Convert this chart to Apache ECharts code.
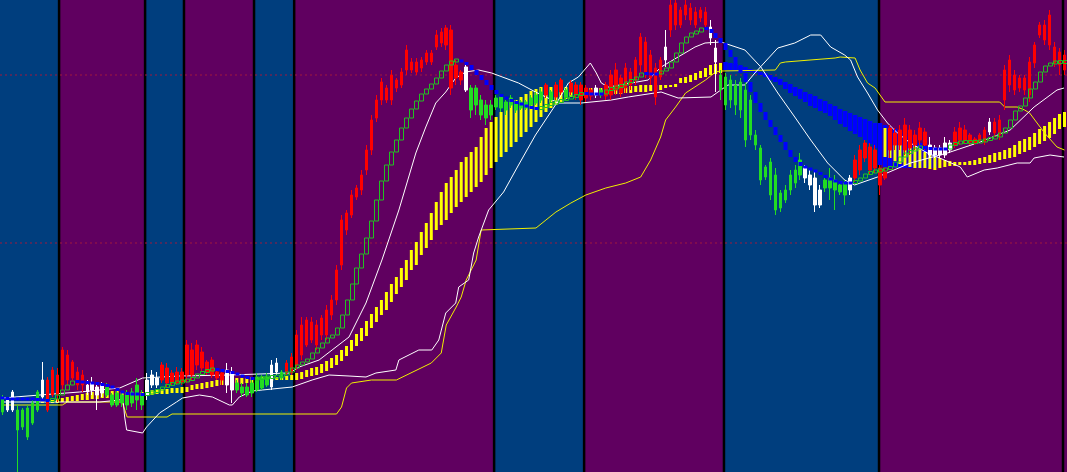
<!DOCTYPE html>
<html>
<head>
<meta charset="utf-8">
<script src="https://cdn.jsdelivr.net/npm/echarts@6/dist/echarts.min.js"></script>
<style>
html,body{margin:0;padding:0;background:#000;overflow:hidden;}
#chart{width:1067px;height:472px;}
</style>
</head>
<body>
<div id="chart"></div>
<script>
// ---------- DATA ----------
// Candles (price units), one per bar (214 bars)
const candleOpen = [
102,90,90,90,90,92,97,108,103,90,
105,105,115,120,122,115,115,108,110,105,
107,113,105,107,105,105,108,115,105,105,
115,115,120,117,117,117,118,125,125,135,
132,128,125,122,120,115,110,117,113,113,
117,122,122,123,113,128,128,127,127,135,
145,155,160,155,165,165,185,200,235,270,
285,303,310,330,350,382,400,400,400,412,
415,430,430,428,432,438,438,453,457,455,
412,422,420,410,412,412,400,395,395,402,
403,398,402,397,398,398,402,405,408,405,
408,403,408,410,408,405,400,402,404,405,
410,404,405,410,407,412,415,420,435,428,
422,403,423,440,470,475,475,485,480,475,
482,475,462,438,425,423,420,415,418,410,
400,365,352,333,338,325,307,310,325,330,
340,322,315,295,295,320,322,320,315,317,
310,322,330,342,330,332,315,322,350,355,
355,350,352,355,360,355,345,345,345,345,
350,355,360,360,358,357,360,358,368,367,
365,400,415,410,412,410,405,437,465,460,
455,437,435,430];
const candleClose = [
88,100,108,70,73,63,77,90,120,120,
130,125,150,145,138,128,125,115,117,113,
115,105,95,95,97,95,97,100,95,120,
125,122,135,132,127,128,128,155,150,155,
148,138,140,128,127,130,128,110,107,105,
107,110,112,115,135,137,122,137,143,165,
175,180,178,175,182,190,200,230,280,287,
305,312,325,350,380,400,418,412,425,420,
428,450,438,438,440,447,447,465,468,472,
470,435,428,433,390,395,385,382,385,393,
392,390,395,390,392,392,395,397,400,415,
400,415,420,403,417,415,415,412,410,412,
405,415,425,430,422,432,428,440,463,458,
445,432,440,453,495,497,490,495,492,488,
490,488,473,452,410,395,400,395,390,360,
365,355,320,323,305,290,292,300,310,317,
325,332,325,322,310,312,312,310,308,305,
322,340,350,357,353,350,332,328,372,367,
370,375,370,365,372,368,355,352,352,357,
357,368,372,370,365,361,365,370,378,378,
380,430,440,425,422,422,438,455,475,475,
485,453,448,445];
const candleLow = [
85,88,88,28,70,60,75,88,100,88,
103,98,110,115,120,110,108,105,105,90,
103,103,93,93,93,90,93,90,90,100,
112,112,117,113,115,115,115,117,120,130,
128,125,122,120,115,107,97,107,103,103,
103,108,110,113,110,125,120,125,125,130,
140,153,157,150,160,160,180,195,230,265,
282,300,305,325,345,378,395,397,395,408,
412,425,427,425,428,435,435,450,453,450,
405,415,415,408,382,385,380,375,380,390,
388,385,392,387,390,390,392,395,397,402,
397,400,405,400,405,400,395,398,400,402,
402,400,400,405,403,407,410,415,428,422,
415,395,420,433,463,470,472,480,475,472,
478,472,455,408,400,390,392,385,382,353,
360,350,315,320,300,285,288,297,305,312,
320,317,310,288,292,308,300,290,305,295,
305,318,325,338,325,327,305,320,342,350,
350,345,345,350,355,350,342,342,342,342,
347,352,355,357,355,355,358,355,365,363,
360,390,408,405,408,405,398,432,462,455,
450,433,425,425];
const candleHigh = [
105,102,110,95,92,95,100,110,138,123,
133,132,153,150,140,133,130,120,123,117,
118,117,107,110,107,110,112,122,110,127,
130,128,138,137,130,133,132,160,157,160,
153,140,143,130,130,137,133,120,117,117,
120,127,125,127,140,142,130,140,147,170,
183,183,183,180,185,195,205,235,285,290,
310,315,330,355,385,405,422,415,430,422,
432,455,442,442,443,450,450,470,472,475,
475,440,430,435,415,415,405,400,400,405,
405,400,405,400,400,400,405,408,412,417,
410,418,422,412,420,418,418,415,412,415,
412,418,430,437,425,437,432,443,467,463,
450,437,443,470,500,500,493,500,497,493,
493,493,480,460,430,427,425,420,422,417,
405,370,355,335,342,332,310,315,330,335,
347,335,330,328,315,322,332,325,317,320,
325,345,355,360,357,355,335,332,375,372,
375,382,375,370,378,372,363,355,355,363,
360,373,378,375,367,363,367,373,382,382,
385,435,445,430,425,425,443,458,478,480,
490,458,452,450];
// candle colour state: r = red, g = green, w = white
const candleState = [
'gwwgggggwrrr','rrrrr','wwww','gggggggg','www',
'rrrrrrrrrrrrr','ww','ggggggg','ww','g',
'rrrrrrrrrr','rrrrrrrrrr','rrrrrrrrrr','rrrrrr',
'w','ggggggggggggggg','rgrrg','rrrrr','wg',
'rrrrrrrrrrrr','w','rrrrrrrr','ww',
'ggggggggggggggggg','wwww','ggggg','w',
'rrrrrrrrrrrrrrr','wwwww','rrrrrrr','w','rrrrrrrrrrrrrrr'
].join('');

// Signal (trailing) line, one value per bar
const signalLine = [
102,101,101,101,101,101,101,100,100,99,
101,105,110,115,119,118,118,117,117,116,
115,114,112,109,107,106,106,106,105,107,
108,110,113,115,117,118,119,120,122,126,
128,130,131,130,129,128,127,125,123,122,
121,122,122,123,123,124,125,128,132,135,
138,141,147,152,157,162,165,172,185,200,
216,232,246,262,279,300,319,335,348,360,
372,382,391,399,406,411,416,422,429,435,
439,440,438,435,430,425,420,415,410,406,
403,401,398,397,395,393,392,391,393,395,
397,398,400,402,403,405,407,406,406,406,
406,410,412,413,415,418,420,423,427,426,
426,426,429,432,438,447,457,463,467,468,
472,471,467,462,457,450,443,435,427,418,
408,397,388,380,373,365,358,350,343,338,
334,332,330,328,325,322,320,318,317,317,
317,319,322,326,328,329,330,331,333,338,
343,347,349,352,353,352,351,351,351,351,
355,357,358,358,358,358,359,360,362,363,
367,372,380,389,394,402,411,418,428,434,
437,438,438,438];

// Yellow cloud histogram, segment A (bars 7..144) and B (bars 177..213)
const cloudStartA = 7;
const cloudTopA = [
100,100,100,100,
101,102,103,104,105,106,107,108,108,109,
109,109,109,108,108,108,108,108,109,110,
110,111,111,112,112,113,113,115,116,117,
118,119,120,122,122,122,122,122,122,123,
123,123,123,123,123,123,124,125,127,128,
130,132,133,136,139,142,145,150,154,160,
166,172,179,186,193,200,208,216,223,232,
240,250,258,268,277,287,298,308,317,323,
330,338,343,348,353,363,372,378,383,388,
393,397,400,403,406,409,411,413,414,413,
413,413,413,413,412,412,412,412,412,412,
412,413,413,413,413,414,414,415,415,415,
415,415,415,415,416,422,423,425,427,429,
432,435,436,437];
const cloudBotA = [
97,97,97,97,
97,98,98,99,99,100,100,101,101,102,
102,103,103,103,104,104,104,104,105,105,
106,106,106,107,107,107,108,110,111,111,
112,113,114,115,115,116,116,116,117,117,
118,118,119,119,120,120,120,120,120,121,
123,124,125,127,129,132,135,139,144,149,
154,159,164,172,178,185,190,198,206,213,
220,230,235,245,252,260,270,275,280,287,
293,298,303,308,313,318,325,332,338,343,
348,353,358,363,368,373,378,383,388,392,
395,398,401,403,405,406,407,406,406,406,
406,406,406,406,407,407,408,408,408,409,
409,410,412,413,413,417,417,418,420,422,
423,425,426,427];
const cloudStartB = 177;
const cloudTopB = [372,370,367,364,361,357,354,351,348,345,343,342,340,339,338,338,338,339,340,342,343,345,347,348,350,352,355,359,361,363,367,371,374,378,382,386,388];
const cloudBotB = [343,342,339,336,335,333,332,332,332,331,330,332,333,334,334,335,335,335,335,336,337,337,338,340,341,342,343,346,348,350,353,356,359,362,366,371,373];

// Blue (bearish) histogram, bars 145..187
const bearStart = 145;
const bearTop = [438,437,436,434,433,431,430,428,427,425,423,421,418,416,413,411,408,406,404,401,399,396,394,391,389,387,385,383,381,379,377,377,375,373,371,368,366,363,360,357,354,350,347];
const bearBot = [430,430,429,428,428,428,427,425,423,420,418,415,411,407,404,401,398,394,392,389,387,384,380,376,373,369,366,363,360,356,352,335,333,332,332,332,332,332,332,332,332,332,332];

// Thin lines: [bar, price]
const maLine = [[0,102],[7.5,105],[15.5,108],[23.5,112],[28.1,122],[35.5,124],[45.5,125],[57.5,127],[59.5,133],[63.5,140],[66.1,150],[69.5,163],[72.9,197],[76.1,240],[79.5,290],[82.9,347],[84.9,373],[86.9,397],[88.9,408],[90.9,422],[92.9,428],[95.5,430],[98.1,427],[103.5,417],[106.9,408],[111.5,397],[116.1,397],[122.1,400],[125.5,403],[132.1,408],[135.5,402],[142.1,403],[143.5,408],[145.5,415],[148.9,415],[150.9,427],[155.5,452],[158.9,457],[162.1,465],[164.1,465],[166.1,453],[168.9,445],[170.1,440],[171.5,423],[173.5,407],[175.5,390],[177.5,377],[179.5,367],[182.1,357],[185.5,347],[188.9,340],[192.1,333],[193.5,323],[196.9,330],[199.5,332],[203.5,337],[206.1,337],[206.9,342],[210.1,345],[212.9,343]];
const bandLine = [[0,98],[19.5,98],[23.5,100],[24.1,105],[24.5,83],[24.9,70],[28.1,67],[28.9,73],[31.5,87],[34.9,98],[36.1,102],[39.5,105],[42.1,103],[45.5,95],[46.1,95],[47.5,103],[50.1,109],[52.1,110],[58.1,113],[62.1,120],[65.5,125],[69.5,124],[72.9,123],[74.9,127],[78.9,130],[79.5,140],[83.5,150],[86.1,150],[87.5,160],[88.9,187],[90.9,197],[91.5,213],[93.5,220],[94.5,247],[95.5,263],[97.5,290],[100.5,308],[103.5,335],[106.9,365],[108.9,380],[110.9,395],[113.5,417],[115.5,423],[117.9,437],[119.1,427],[120.1,417],[121.5,413],[126.1,417],[129.5,420],[132.1,433],[135.5,443],[138.9,453],[140.9,457],[144.1,458],[148.9,450],[152.1,433],[155.5,407],[158.9,383],[162.1,360],[165.5,337],[168.9,320],[170.9,315],[175.5,323],[182.1,337],[189.5,347],[196.1,358],[202.1,370],[206.9,393],[211.5,410],[212.9,412]];
const channelLine = [[0,95],[12,95],[13,98],[24,98],[25,83],[33,83],[34,86],[67,86],[68,93],[69,112],[70,117],[74,120],[79,120],[86,137],[88,147],[89,175],[91,193],[92,203],[93,220],[95,240],[96,270],[107,272],[109,280],[111,288],[114,297],[117,305],[121,312],[125,317],[128,323],[130,340],[132,363],[133,380],[135,393],[137,407],[141,420],[143,428],[144,429],[155,430],[156,437],[157,438],[167,442],[168,443],[171,442],[172,430],[173.5,417],[175,412],[177,398],[200,398],[201,393],[203.5,393],[205,390],[206,387],[207.5,377],[209,367],[211.5,353],[213,350]];

// Sessions (in bar units) and horizontal levels
const sessionEdges = [-0.5, 11.35, 28.6, 36.4, 50.45, 58.5, 98.6, 116.65, 144.7, 175.8, 212.7, 213.5];
const sessionKind  = [0,1,0,1,0,1,0,1,0,1,1]; // 0 = blue, 1 = purple
const levels = [425, 257];

// ---------- CHART ----------
const BLUE_BG = '#003e7e', PURPLE_BG = '#600060';
const COL = {r:'#ff0000', g:'#22dd22', w:'#ffffff'};
const barLabels = candleOpen.map((_, i) => String(i));

const candleData = candleOpen.map((o, i) => {
  const c = COL[candleState[i]] || '#ff0000';
  return {value:[o, candleClose[i], candleLow[i], candleHigh[i]],
          itemStyle:{color:c, color0:c, borderColor:c, borderColor0:c, borderWidth:1}};
});

let prevDir = 0;
const signalData = signalLine.map((v, i) => {
  const p = i > 0 ? signalLine[i-1] : v;
  let dir = v > p ? 1 : (v < p ? 0 : prevDir);
  prevDir = dir;
  return [i, p, v, dir];
});

const cloudData = [];
cloudTopA.forEach((t, k) => cloudData.push([cloudStartA + k, t, cloudBotA[k]]));
cloudTopB.forEach((t, k) => cloudData.push([cloudStartB + k, t, cloudBotB[k]]));
const bearData = bearTop.map((t, k) => [bearStart + k, t, bearBot[k]]);

const sessionData = sessionKind.map((k, i) => [sessionEdges[i], sessionEdges[i+1], k, 28]);
const breakData = sessionEdges.slice(1, -1).map(b => [b, 28]);

function histRender(color, w) {
  return function (params, api) {
    const a = api.coord([api.value(0), api.value(1)]);
    const b = api.coord([api.value(0), api.value(2)]);
    const top = Math.min(a[1], b[1]);
    const h = Math.max(Math.abs(b[1] - a[1]), 2);
    return {type:'rect', shape:{x:a[0] - w/2, y:top, width:w, height:h}, style:{fill:color}};
  };
}

const chart = echarts.init(document.getElementById('chart'), null, {renderer:'canvas'});
chart.setOption({
  animation:false,
  backgroundColor:'#000',
  grid:{left:0, top:0, width:1067, height:472, containLabel:false},
  xAxis:[
    {type:'category', data:barLabels, boundaryGap:true, show:false},
    {type:'value', min:-0.5, max:213.5, show:false}
  ],
  yAxis:{type:'value', min:28, max:500, show:false},
  series:[
    {type:'custom', name:'sessions', xAxisIndex:1, z:0, silent:true, data:sessionData,
     encode:{x:[0,1], y:3},
     renderItem(params, api){
       const a = api.coord([api.value(0), 500]);
       const b = api.coord([api.value(1), 28]);
       return {type:'rect', shape:{x:a[0], y:a[1], width:b[0]-a[0], height:b[1]-a[1]},
               style:{fill: api.value(2) ? PURPLE_BG : BLUE_BG}};
     }},
    {type:'custom', name:'breaks', xAxisIndex:1, z:1, silent:true, data:breakData,
     encode:{x:0, y:1},
     renderItem(params, api){
       const t = api.coord([api.value(0), 500]);
       const b = api.coord([api.value(0), 28]);
       return {type:'line', shape:{x1:t[0], y1:t[1], x2:b[0], y2:b[1]}, style:{stroke:'#000', lineWidth:2.5}};
     }},
    ...levels.map(l => ({type:'line', xAxisIndex:1, z:1, silent:true, symbol:'none',
      data:[[-0.5, l], [213.5, l]], lineStyle:{color:'#a0183c', width:1, type:[2,3]}})),
    {type:'custom', name:'bear', xAxisIndex:0, z:2, silent:true, data:bearData,
     encode:{x:0, y:[1,2]}, renderItem:histRender('#0000ff', 4.5)},
    {type:'custom', name:'cloud', xAxisIndex:0, z:2, silent:true, data:cloudData,
     encode:{x:0, y:[1,2]}, renderItem:histRender('#ffff00', 3)},
    {type:'line', name:'channel', xAxisIndex:1, z:3, silent:true, symbol:'none', data:channelLine,
     lineStyle:{color:'#f0f000', width:1}},
    {type:'line', name:'band', xAxisIndex:1, z:3, silent:true, symbol:'none', data:bandLine,
     lineStyle:{color:'#ffffff', width:1}},
    {type:'line', name:'ma', xAxisIndex:1, z:3, silent:true, symbol:'none', data:maLine,
     lineStyle:{color:'#ffffff', width:1}},
    {type:'candlestick', xAxisIndex:0, z:4, silent:true, barWidth:3, data:candleData},
    {type:'custom', name:'signal', xAxisIndex:0, z:5, silent:true, data:signalData,
     encode:{x:0, y:[1,2]},
     renderItem(params, api){
       const a = api.coord([api.value(0), api.value(1)]);
       const b = api.coord([api.value(0), api.value(2)]);
       let top = Math.min(a[1], b[1]);
       let h = Math.abs(b[1] - a[1]);
       if (h < 3) { top = (a[1] + b[1]) / 2 - 1.5; h = 3; }
       const up = api.value(3) === 1;
       return {type:'rect', shape:{x:Math.round(a[0]) - 1.5, y:top, width:4, height:h},
               style: up ? {fill:'none', stroke:'#22c022', lineWidth:1} : {fill:'#0000ff'}};
     }}
  ]
});
</script>
</body>
</html>
